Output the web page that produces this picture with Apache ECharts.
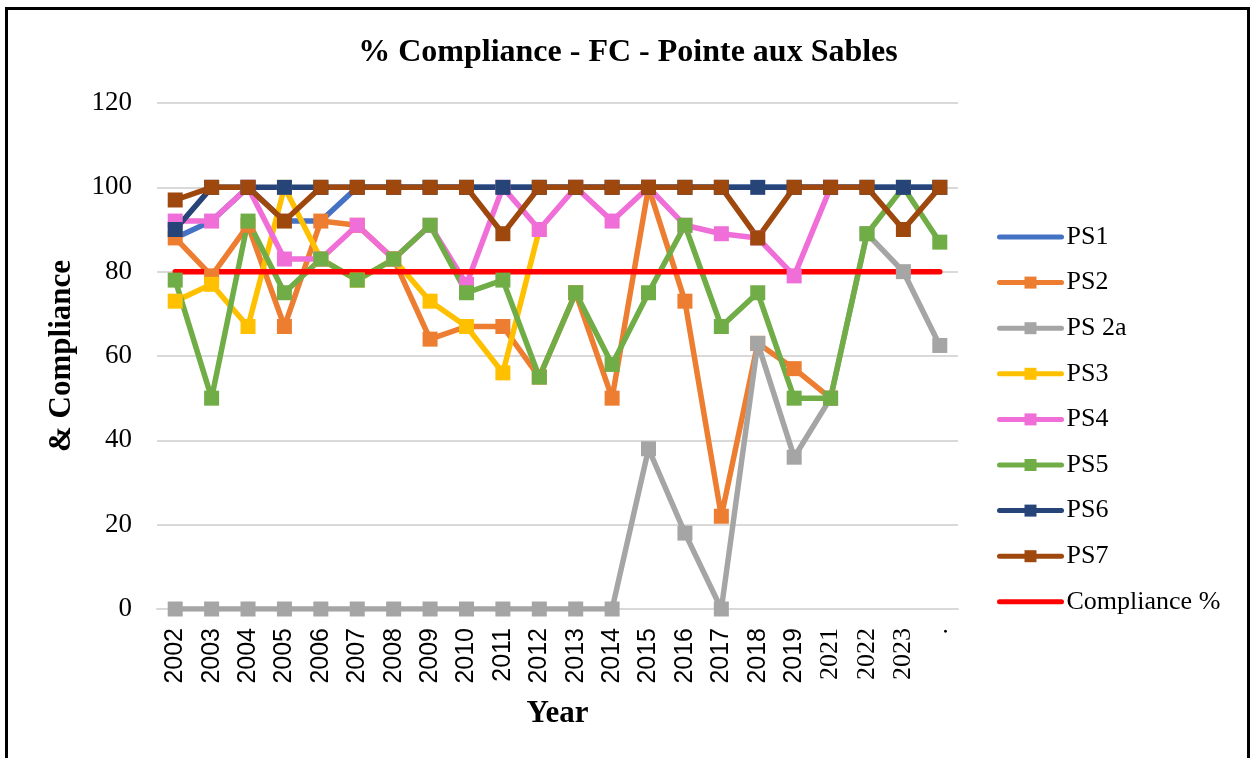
<!DOCTYPE html>
<html>
<head>
<meta charset="utf-8">
<title>% Compliance - FC - Pointe aux Sables</title>
<script src="https://cdn.jsdelivr.net/npm/echarts@6/dist/echarts.min.js"></script>
<style>
html, body { margin: 0; padding: 0; background: #fff; overflow: hidden; }
#chart { position: absolute; left: 0; top: 0; width: 1250px; height: 758px; }
/* black frame, bottom edge is cut off in the reference */
#frame {
  position: absolute; left: 5px; top: 7px; width: 1245px; height: 770px;
  border: 3px solid #000; border-bottom: none; box-sizing: border-box;
  pointer-events: none;
}
</style>
</head>
<body>
<div id="chart"></div>
<div id="frame"></div>
<script>
// categories (no 2020 in the source, last one is a lone ".")
const years = ['2002','2003','2004','2005','2006','2007','2008','2009','2010','2011',
  '2012','2013','2014','2015','2016','2017','2018','2019','2021','2022','2023','.'];

const ps1  = [88,92,100,92,92,100,100,100,100,100,100,100,100,100,100,100,100,100,100,100,100,100];
const ps2  = [88,79,91,67,92,91,83,64,67,67,55,75,50,100,73,22,63,57,50];
const ps2a = [0,0,0,0,0,0,0,0,0,0,0,0,0,38,18,0,63,36,50,89,80,62.5];
const ps3  = [73,77,67,100,83,78,83,73,67,56,90];
const ps4  = [92,92,100,83,83,91,83,91,77,100,90,100,92,100,91,89,88,79,100];
const ps5  = [78,50,92,75,83,78,83,91,75,78,55,75,58,75,91,67,75,50,50,89,100,87];
const ps6  = [90,100,100,100,100,100,100,100,100,100,100,100,100,100,100,100,100,100,100,100,100,100];
const ps7  = [97,100,100,92,100,100,100,100,100,89,100,100,100,100,100,100,88,100,100,100,90,100];
const compliance = [80,80,80,80,80,80,80,80,80,80,80,80,80,80,80,80,80,80,80,80,80,80];

const yTicks = { min: 0, max: 120, interval: 20 };

const serif = 'Liberation Serif';

// one line series with square markers
function lineSeries(name, data, color, withMarker) {
  return {
    name: name,
    type: 'line',
    data: data,
    symbol: withMarker ? 'rect' : 'none',
    symbolSize: 15,
    showSymbol: withMarker,
    lineStyle: { width: 5.5, color: color, cap: 'round', join: 'round' },
    itemStyle: { color: color },
    emphasis: { disabled: true },
    animation: false
  };
}

const chart = echarts.init(document.getElementById('chart'));

// legend entries, the two plain lines get no marker
const legendNames = ['PS1','PS2','PS 2a','PS3','PS4','PS5','PS6','PS7','Compliance %'];
const legendData = legendNames.map(function (n) {
  if (n === 'PS1' || n === 'Compliance %') {
    return { name: n, itemStyle: { opacity: 0 } };
  }
  return { name: n };
});

const option = {
  backgroundColor: 'transparent',
  title: {
    text: '% Compliance - FC - Pointe aux Sables',
    left: 623,
    textAlign: 'center',
    top: 32,
    textStyle: { fontFamily: serif, fontSize: 32, fontWeight: 'bold', color: '#000' }
  },
  grid: { left: 157, right: 292, top: 103, bottom: 149 },
  legend: {
    orient: 'vertical',
    left: 992,
    top: 219,
    itemWidth: 62,
    itemHeight: 15,
    itemGap: 19.6,
    lineStyle: { width: 5, cap: 'round' },
    textStyle: { fontFamily: serif, fontSize: 26, color: '#000', lineHeight: 26 },
    data: legendData
  },
  xAxis: {
    type: 'category',
    data: years,
    boundaryGap: true,
    name: 'Year',
    nameLocation: 'middle',
    nameGap: 89,
    nameTextStyle: { fontFamily: serif, fontSize: 31, fontWeight: 'bold', color: '#000' },
    axisLine: { lineStyle: { color: '#d9d9d9', width: 2 } },
    axisTick: { show: false },
    axisLabel: {
      rotate: 90,
      interval: 0,
      margin: 19,
      color: '#000',
      formatter: function (v) {
        return (v === '.' || Number(v) >= 2021) ? '{s|' + v + '}' : '{a|' + v + '}';
      },
      rich: {
        a: { fontFamily: 'Liberation Sans', fontSize: 25, color: '#000' },
        s: { fontFamily: serif, fontSize: 26, color: '#000' }
      }
    }
  },
  yAxis: {
    type: 'value',
    min: yTicks.min,
    max: yTicks.max,
    interval: yTicks.interval,
    name: '& Compliance',
    nameLocation: 'middle',
    nameGap: 80,
    nameTextStyle: { fontFamily: serif, fontSize: 31, fontWeight: 'bold', color: '#000' },
    axisLine: { show: false },
    axisTick: { show: false },
    axisLabel: { fontFamily: serif, fontSize: 27, color: '#000', margin: 25 },
    splitLine: { lineStyle: { color: '#d9d9d9', width: 2 } }
  },
  series: [
    lineSeries('PS1', ps1, '#4472C4', false),
    lineSeries('PS2', ps2, '#ED7D31', true),
    lineSeries('PS 2a', ps2a, '#A5A5A5', true),
    lineSeries('PS3', ps3, '#FFC000', true),
    lineSeries('PS4', ps4, '#F06ED8', true),
    lineSeries('PS5', ps5, '#70AD47', true),
    lineSeries('PS6', ps6, '#264478', true),
    lineSeries('PS7', ps7, '#9E480E', true),
    lineSeries('Compliance %', compliance, '#FF0000', false)
  ]
};

chart.setOption(option);
</script>
</body>
</html>
